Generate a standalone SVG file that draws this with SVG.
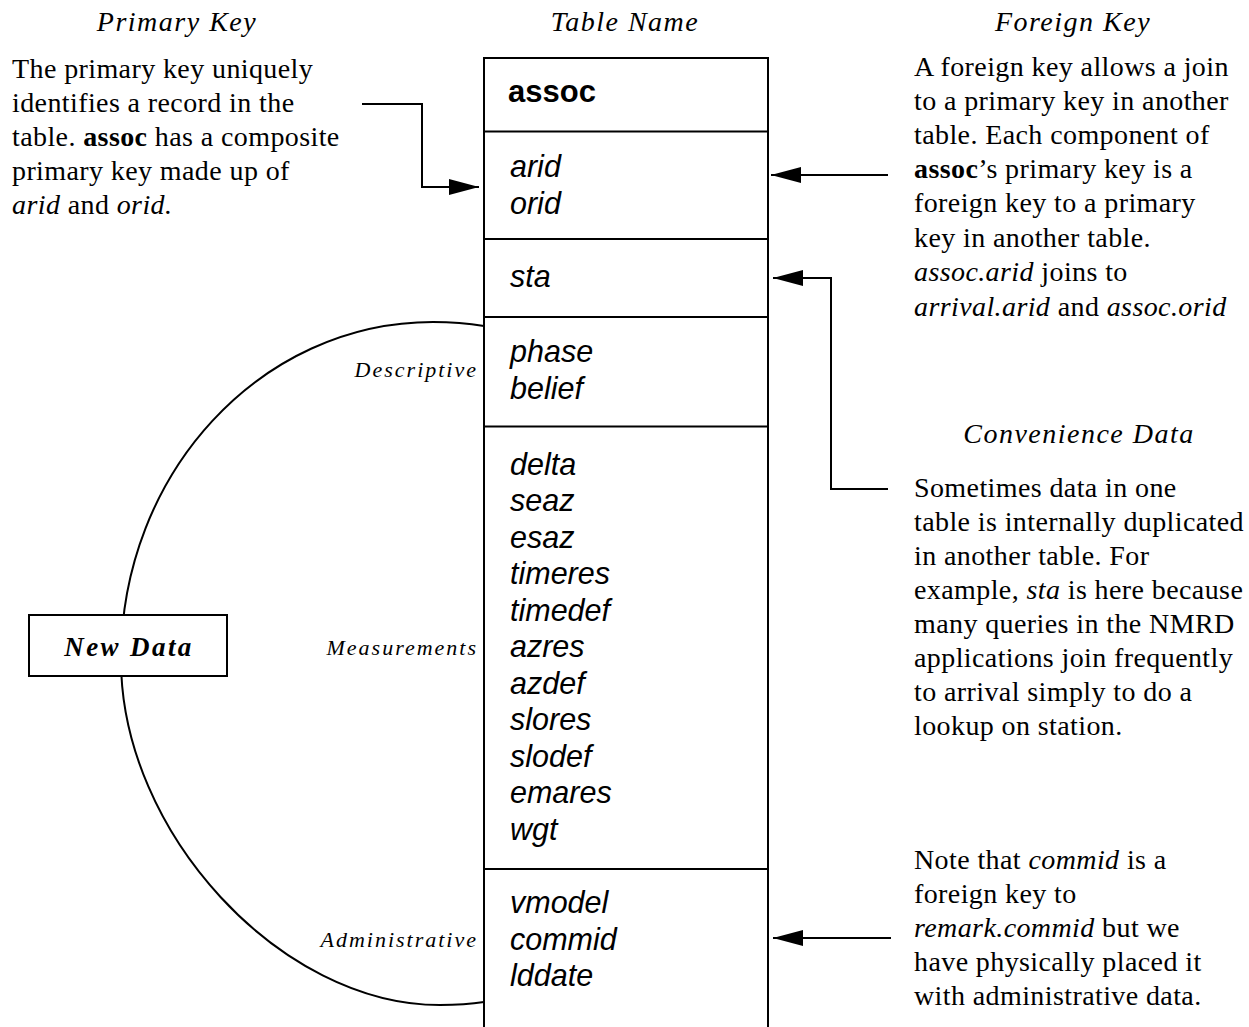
<svg xmlns="http://www.w3.org/2000/svg" width="1249" height="1027" viewBox="0 0 1249 1027">
<defs>
<style>
.bg{fill:#fff}
.ln{fill:none;stroke:#000;stroke-width:2}
.hdr{font-family:"Liberation Serif","Times New Roman",serif;font-style:italic;font-size:28px;letter-spacing:1.5px;fill:#000;text-anchor:middle}
.body{font-family:"Liberation Serif","Times New Roman",serif;font-size:28px;letter-spacing:0.4px;fill:#000}
.lbl{font-family:"Liberation Serif","Times New Roman",serif;font-style:italic;font-size:22px;letter-spacing:2px;fill:#000;text-anchor:end}
.fld{font-family:"Liberation Sans",Arial,sans-serif;font-style:italic;font-size:30.5px;fill:#000}
.tname{font-family:"Liberation Sans",Arial,sans-serif;font-weight:bold;font-size:31px;fill:#000}
.nd{font-family:"Liberation Serif","Times New Roman",serif;font-style:italic;font-weight:bold;font-size:27px;letter-spacing:2.4px;fill:#000;text-anchor:middle}
.i{font-style:italic}
.b{font-weight:bold}
</style>
<marker id="ah" markerUnits="userSpaceOnUse" markerWidth="30" markerHeight="16" refX="30" refY="8" orient="auto">
<path d="M0,0 L30,8 L0,16 Z" fill="#000"/>
</marker>
</defs>
<rect class="bg" x="0" y="0" width="1249" height="1027"/>

<g id="connectors">
<path id="curve" class="ln" d="M484,326 Q460,322 433,322 C260.7,322 121,473 121,660 C121,832 280,1005 440,1005 Q465,1005 484,1002"/>
<path id="arrow-pk" class="ln" d="M362,104 H422 V187 H479" marker-end="url(#ah)"/>
<path id="arrow-fk" class="ln" d="M888,175 H771" marker-end="url(#ah)"/>
<path id="arrow-conv" class="ln" d="M888,489 H831 V278 H773" marker-end="url(#ah)"/>
<path id="arrow-note" class="ln" d="M891,938 H773" marker-end="url(#ah)"/>
</g>

<g id="header-primary-key"><text class="hdr" x="177" y="31">Primary Key</text></g>
<g id="header-table-name"><text class="hdr" x="625" y="31">Table Name</text></g>
<g id="header-foreign-key"><text class="hdr" x="1073" y="31">Foreign Key</text></g>

<g id="note-primary-key">
<text class="body" x="12" y="78">The primary key uniquely</text>
<text class="body" x="12" y="112">identifies a record in the</text>
<text class="body" x="12" y="146">table. <tspan class="b">assoc</tspan> has a composite</text>
<text class="body" x="12" y="180">primary key made up of</text>
<text class="body" x="12" y="214"><tspan class="i">arid</tspan> and <tspan class="i">orid.</tspan></text>
</g>

<g id="note-foreign-key">
<text class="body" x="914" y="76">A foreign key allows a join</text>
<text class="body" x="914" y="110">to a primary key in another</text>
<text class="body" x="914" y="144">table. Each component of</text>
<text class="body" x="914" y="178"><tspan class="b">assoc</tspan>’s primary key is a</text>
<text class="body" x="914" y="212">foreign key to a primary</text>
<text class="body" x="914" y="247">key in another table.</text>
<text class="body" x="914" y="281"><tspan class="i">assoc.arid</tspan> joins to</text>
<text class="body" x="914" y="316"><tspan class="i">arrival.arid</tspan> and <tspan class="i">assoc.orid</tspan></text>
</g>

<g id="note-convenience">
<text class="hdr" x="1079" y="443">Convenience Data</text>
<text class="body" x="914" y="497">Sometimes data in one</text>
<text class="body" x="914" y="531">table is internally duplicated</text>
<text class="body" x="914" y="565">in another table. For</text>
<text class="body" x="914" y="599">example, <tspan class="i">sta</tspan> is here because</text>
<text class="body" x="914" y="633">many queries in the NMRD</text>
<text class="body" x="914" y="667">applications join frequently</text>
<text class="body" x="914" y="701">to arrival simply to do a</text>
<text class="body" x="914" y="735">lookup on station.</text>
</g>

<g id="note-administrative">
<text class="body" x="914" y="869">Note that <tspan class="i">commid</tspan> is a</text>
<text class="body" x="914" y="903">foreign key to</text>
<text class="body" x="914" y="937"><tspan class="i">remark.commid</tspan> but we</text>
<text class="body" x="914" y="971">have physically placed it</text>
<text class="body" x="914" y="1005">with administrative data.</text>
</g>

<g id="group-labels">
<text class="lbl" x="478" y="377">Descriptive</text>
<text class="lbl" x="478" y="655">Measurements</text>
<text class="lbl" x="478" y="947">Administrative</text>
</g>

<g id="new-data">
<rect x="29" y="615" width="198" height="61" fill="#fff" stroke="#000" stroke-width="2"/>
<text class="nd" x="129" y="656">New Data</text>
</g>

<g id="table-assoc">
<rect x="484" y="58" width="284" height="980" fill="#fff" stroke="none"/>
<path class="ln" d="M484,1027 V58 H768 V1027"/>
<path class="ln" d="M484,131.5 H768 M484,239 H768 M484,317 H768 M484,426.5 H768 M484,869 H768"/>
<g id="row-name"><text class="tname" x="508" y="102">assoc</text></g>
<g id="row-keys">
<text class="fld" x="510" y="177">arid</text>
<text class="fld" x="510" y="213.5">orid</text>
</g>
<g id="row-sta"><text class="fld" x="510" y="287">sta</text></g>
<g id="row-descriptive">
<text class="fld" x="510" y="362">phase</text>
<text class="fld" x="510" y="398.5">belief</text>
</g>
<g id="row-measurements">
<text class="fld" x="510" y="474.5">delta</text>
<text class="fld" x="510" y="511">seaz</text>
<text class="fld" x="510" y="547.5">esaz</text>
<text class="fld" x="510" y="584">timeres</text>
<text class="fld" x="510" y="620.5">timedef</text>
<text class="fld" x="510" y="657">azres</text>
<text class="fld" x="510" y="693.5">azdef</text>
<text class="fld" x="510" y="730">slores</text>
<text class="fld" x="510" y="766.5">slodef</text>
<text class="fld" x="510" y="803">emares</text>
<text class="fld" x="510" y="839.5">wgt</text>
</g>
<g id="row-administrative">
<text class="fld" x="510" y="913">vmodel</text>
<text class="fld" x="510" y="949.5">commid</text>
<text class="fld" x="510" y="986">lddate</text>
</g>
</g>
</svg>
